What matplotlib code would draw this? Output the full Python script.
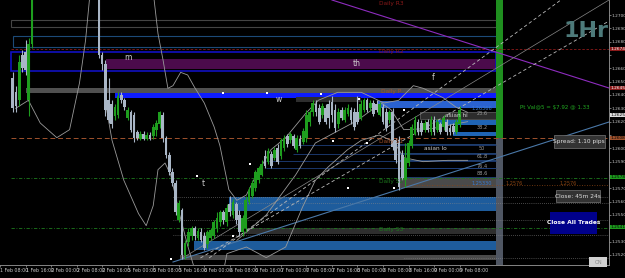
import matplotlib
matplotlib.use("Agg")
import matplotlib.pyplot as plt
import matplotlib.transforms as mtransforms
from matplotlib.patches import Rectangle
import numpy as np

# hourly GBPUSD bars, bar 0 = 1 Feb 16:00, prices in pips above 1.2500
first_bar = -4
nan = np.nan
opens = [153, 142, 136, 170, 172, 136, 178] + [nan] * 20 + [
    219, 170, 163, 136, 133, 124, 125, 140, 136, 123, 127, 125, 112, 107, 111, 107, 110, 109, 114, 118,
    125, 108, 95, 82, 74, 46, 54, 20, 30, 34, 40, 33, 37, 34, 28, 33, 34, 40, 45, 52,
    45, 58, 50, 58, 50, 37, 40, 60, 64, 70, 76, 80, 94, 90, 96, 93, 100, 94, 100, 109,
    106, 109, 99, 107, 105, 108, 120, 127, 133, 130, 125, 130, 133, 135, 129, 118, 129, 121, 126, 129,
    127, 127, 123, 129, 136, 130, 134, 133, 125, 131, 127, 121, 127, 106, 106, 95, 76, 89, 102, 111,
    120, 119, 114, 120, 112, 121, 114, 118, 116, 120, 115, 117, 112, 118]
closes = [130, 132, 165, 160, 159, 178, 219] + [nan] * 20 + [
    170, 163, 129, 121, 118, 131, 139, 136, 131, 129, 114, 108, 108, 111, 107, 110, 107, 116, 119, 127,
    108, 95, 82, 74, 52, 59, 20, 29, 37, 40, 34, 38, 31, 25, 37, 39, 45, 48, 52, 46,
    55, 52, 60, 46, 37, 48, 61, 69, 74, 82, 85, 88, 87, 98, 87, 99, 90, 106, 108, 103,
    111, 102, 108, 102, 113, 125, 127, 134, 127, 120, 132, 120, 123, 125, 115, 127, 123, 129, 130, 121,
    116, 120, 133, 136, 129, 134, 126, 129, 133, 120, 115, 127, 101, 91, 71, 78, 93, 104, 116, 121,
    112, 112, 119, 114, 121, 112, 120, 112, 123, 112, 112, 112, 120, 129]
highs = [157, 147, 170, 174, 181, 183, 226] + [nan] * 20 + [
    226, 172, 166, 153, 136, 133, 142, 142, 138, 131, 129, 127, 114, 113, 113, 112, 112, 118, 121, 128,
    127, 109, 97, 85, 76, 61, 55, 31, 40, 42, 42, 40, 40, 37, 39, 40, 46, 52, 54, 54,
    58, 64, 62, 60, 54, 50, 64, 71, 76, 84, 87, 91, 99, 100, 98, 101, 103, 108, 110, 111,
    112, 111, 110, 110, 115, 129, 129, 136, 136, 133, 134, 133, 136, 139, 133, 130, 131, 131, 133, 131,
    130, 139, 136, 138, 138, 136, 136, 136, 135, 133, 130, 129, 130, 108, 109, 99, 104, 106, 118, 124,
    122, 121, 121, 122, 124, 124, 122, 120, 125, 122, 118, 119, 122, 132]
lows = [127, 127, 132, 157, 155, 124, 175] + [nan] * 20 + [
    168, 159, 124, 119, 115, 121, 123, 134, 129, 121, 112, 105, 106, 106, 106, 106, 106, 107, 109, 115,
    105, 93, 80, 72, 50, 45, 17, 17, 27, 31, 31, 31, 30, 24, 25, 31, 33, 37, 42, 43,
    42, 49, 48, 43, 34, 34, 37, 58, 63, 68, 74, 79, 85, 88, 85, 91, 88, 92, 98, 101,
    104, 100, 97, 100, 103, 105, 117, 124, 124, 118, 123, 118, 115, 120, 112, 115, 121, 120, 124, 118,
    114, 118, 121, 127, 127, 128, 124, 127, 124, 118, 113, 119, 99, 89, 69, 76, 71, 87, 100, 110,
    110, 110, 112, 112, 110, 110, 112, 111, 114, 110, 110, 111, 111, 116]

# bollinger style curves (bar, pips)
band_left = [(-3.1, 130), (0.9, 136), (4.6, 119), (9.8, 108), (13.8, 114), (16.9, 149), (18.8, 181), (20, 211)]
band_upper = [(40.3, 211), (41.5, 186), (43.1, 166), (44.6, 145), (46.2, 147), (48.6, 157), (50.8, 155),
              (52.9, 146), (56, 134), (59.1, 116), (60.9, 102), (63.7, 69), (66.2, 61), (69.2, 65),
              (72.3, 80), (76.9, 99), (81.5, 108), (87.7, 126), (91.7, 136), (97.8, 142), (105.2, 142),
              (112.3, 134), (116.9, 136), (121.5, 147), (124.6, 145), (130.8, 138), (134.8, 131), (138.5, 127)]
band_lower = [(25.2, 132), (27.1, 106), (30.8, 76), (35.4, 51), (37.8, 42), (40, 57), (41.5, 84),
              (43.7, 89), (45.5, 80), (48.3, 50), (50.8, 27), (52.9, 10), (57.5, -6), (62.2, 10),
              (63.1, 21), (69.2, 26), (75.4, 18), (81.5, 26), (86.8, 56), (90.8, 76), (94.8, 86),
              (100.9, 99), (105.2, 106), (110.8, 110), (115.4, 105), (118.5, 93), (124.6, 90),
              (132.3, 91), (138.5, 91)]
band_mid = [(66.2, 31), (75.4, 50), (84.6, 80), (90.8, 104), (104, 121), (111.4, 134), (114.5, 129),
            (118.5, 114), (127.7, 115), (138.5, 120)]

dots = [(61.8, 141.5), (75.7, 141.5), (92.6, 140.8), (104.6, 137), (118.5, 128.8), (96.3, 105.5),
        (107.1, 104), (70.2, 88.3), (53.8, 79.3), (64.9, 34.3), (45.5, 17), (100.9, 70.3), (115.4, 70.3)]

tick_bars = list(range(-8, 137, 8))
tick_labels = ["1 Feb 08:00", "1 Feb 16:00", "2 Feb 00:00", "2 Feb 08:00", "2 Feb 16:00",
               "5 Feb 00:00", "5 Feb 08:00", "5 Feb 16:00", "6 Feb 00:00", "6 Feb 08:00",
               "6 Feb 16:00", "7 Feb 00:00", "7 Feb 08:00", "7 Feb 16:00", "8 Feb 00:00",
               "8 Feb 08:00", "8 Feb 16:00", "9 Feb 00:00", "9 Feb 08:00"]
price_ticks = list(range(20, 201, 10))
# coloured level tags on the price scale
level_tags = [174.5, 145.25, 125, 107.75, 78.5, 41]
tag_colors = ["#8b1a1a", "#8b1a1a", "#dddddd", "#a0522d", "#1d9a1d", "#1d9a1d"]

BULL = "#1e9e1e"
BEAR = "#a9b6c6"
X0, X1 = -4.6, 182.8
ZEND = 147.4
NARROW = ["Liberation Sans Narrow", "DejaVu Sans"]

fig = plt.figure(figsize=(6.25, 2.78), dpi=100, facecolor="black")
ax = fig.add_axes([0, 13 / 278, 609 / 625, 265 / 278])
ax.set_facecolor("black")
ax.set_xlim(X0, X1)
ax.set_ylim(12.5, 211.25)

def zone(x0, p0, p1, color, x1=ZEND, **kw):
    ax.add_patch(Rectangle((x0, p0), x1 - x0, p1 - p0, facecolor=color, edgecolor="none", zorder=1, **kw))

def box(x0, p0, p1, color, x1=ZEND, lw=0.8):
    ax.add_patch(Rectangle((x0, p0), x1 - x0, p1 - p0, facecolor="none", edgecolor=color, lw=lw, zorder=1))

# zones
zone(25.2, 159.5, 167, "#4b0b4b")
zone(0.3, 141.5, 145.25, "#505050")
zone(28, 137.75, 141.5, "#0d1cff")
zone(84.6, 134.75, 138.5, "#2e2e2e", x1=105.2)
zone(110.2, 130.25, 135.5, "#2a62d0")
zone(123.7, 122, 127.25, "#2c2c2c")
zone(128.6, 117.5, 121.25, "#1f64b4")
zone(133.8, 109.25, 112.25, "#1f64b4")
zone(116.9, 70.25, 77.75, "#4a4a4a")
zone(63.7, 53, 63.5, "#1e5c9c")
zone(52.9, 23.75, 30.5, "#1e5c9c")
zone(69.2, 35.75, 40.25, "#2e2e2e")
zone(48.3, 16.25, 20, "#4a4a4a")

box(X0, 191, 196.5, "#444444")
box(-4, 176, 184.25, "#1c4a78")
box(X0, 158, 172.25, "#1010c0", lw=1.2)
box(123.7, 122, 127.25, "#555555", lw=0.6)
for lo, hi in [(96.5, 103.25), (91.25, 96.5), (85.25, 91.25), (78.5, 85.25)]:
    box(116.9, lo, hi, "#1f3f6e", lw=0.7)

# horizontal levels
ax.hlines(174.5, X0, X1, color="#8b1a1a", lw=0.6, linestyles=(0, (3, 2)), zorder=2)
ax.hlines(107.75, X0, X1, color="#a0522d", lw=0.7, linestyles=(0, (5, 3)), zorder=2)
ax.hlines([77.75, 40.25], X0, X1, color="#1d7a1d", lw=0.6, linestyles=(0, (4, 2, 1, 2)), zorder=2)
ax.hlines([63.5, 46.25, 35], 46.2, X1, color="#8a8a8a", lw=0.5, linestyles=(0, (1, 2)), zorder=2)
ax.hlines(59, 63.7, X1, color="#8a8a8a", lw=0.5, linestyles=(0, (1, 2)), zorder=2)
ax.hlines(17.75, 118.5, X1, color="#8a8a8a", lw=0.5, linestyles=(0, (1, 2)), zorder=2)
ax.hlines([102.5, 95.75], 83.7, ZEND, color="#1f3f7a", lw=0.6, zorder=2)
ax.hlines([90.5, 85.25], 75.4, ZEND, color="#1f3f7a", lw=0.6, zorder=2)
ax.hlines(72.5, 118.5, X1, color="#8b4513", lw=0.6, linestyles=(0, (1, 2)), zorder=2)
ax.hlines(12.8, X0, X1, color="#1d7a1d", lw=0.6, linestyles=(0, (4, 2, 1, 2)), zorder=2)

# column marker
zone(ZEND, 107.75, 211.25, "#1f8f1f", x1=149.5)
zone(ZEND, 12.5, 107.75, "#4f5663", x1=149.5)

# diagonals
ax.plot([96, X1], [211.25, 145.25], color="#8e2cbf", lw=0.8, zorder=3)
ax.plot([46.2, X1], [14.75, 119.75], color="#4a78a8", lw=0.8, zorder=3)
ax.plot([54.8, X1], [17.75, 195.5], color="#bbbbbb", lw=0.6, ls=(0, (4, 3)), zorder=3)
ax.plot([57.5, 167.7], [17.75, 211.25], color="#bbbbbb", lw=0.6, ls=(0, (4, 3)), zorder=3)
ax.plot([49.2, X1], [17.75, 211.25], color="#888888", lw=0.5, zorder=3)

for curve in [band_left, band_upper, band_lower, band_mid]:
    xs, ys = zip(*curve)
    ax.plot(xs, ys, color="#9a9a9a", lw=0.6, zorder=3)

# candles
o = np.array(opens, float)
c = np.array(closes, float)
h = np.array(highs, float)
l = np.array(lows, float)
idx = np.arange(first_bar, first_bar + len(o))
ok = ~np.isnan(o)
up = c >= o
cols = np.where(up, BULL, BEAR)
ax.vlines(idx[ok], l[ok], h[ok], colors=cols[ok], lw=0.8, zorder=4)
ax.bar(idx[ok], np.maximum(np.abs(c - o)[ok], 0.7), bottom=np.minimum(o, c)[ok], width=0.85,
       color=cols[ok], zorder=5)

dx, dy = zip(*dots)
ax.scatter(dx, dy, s=2.5, color="white", marker="s", linewidths=0, zorder=6)

# labels on chart
small = dict(fontsize=4.2, zorder=7, family=NARROW)
for t, x, y in [("m", 32, 167.75), ("th", 103.7, 164), ("w", 79.4, 136.25), ("f", 127.7, 152.75), ("t", 55.7, 73.25)]:
    ax.text(x, y, t, color="#d0d0d0", ha="center", va="center", fontsize=5.5, zorder=7)
for t, y, col in [("Daily R3", 209, "#8b1a1a"), ("Daily R2", 172.25, "#8b1a1a"), ("Daily P", 143, "#a0522d"),
                  ("Daily S1", 104.75, "#a0522d"), ("Daily S2", 74.75, "#1d7a1d"), ("Daily S3", 38.75, "#1d7a1d")]:
    ax.text(114.5, y, t, color=col, ha="center", va="center", **small)
for t, y in [("23.6", 126), ("38.2", 115.5), ("50", 100), ("61.8", 93.5), ("76.4", 86.5), ("88.6", 81)]:
    ax.text(143, y, t, color="#9a9a9a", ha="center", va="center", fontsize=3.6, family=NARROW, zorder=7)
ax.text(135, 124.6, "asian hi", color="#cccccc", ha="center", va="center", **small)
ax.text(128.5, 100, "asian lo", color="#cccccc", ha="center", va="center", **small)
ax.text(143, 73.5, "1.25330", color="#3a7ad0", ha="center", va="center", fontsize=3.6, family=NARROW, zorder=7)
ax.text(143, 130, "1.26366", color="#3a7ad0", ha="center", va="center", fontsize=3.6, family=NARROW, zorder=7)
ax.text(153, 73.5, "1.2576", color="#8b4513", ha="center", va="center", fontsize=3.6, family=NARROW, zorder=7)
ax.text(170, 73.5, "1.2576", color="#8b4513", ha="center", va="center", fontsize=3.6, family=NARROW, zorder=7)
ax.text(155, 131, "Pt Val@5 = $7.92 @ 1.33", color="#22aa22", ha="left", va="center", fontsize=4,
        family=NARROW, zorder=7)

# right hand panel
ax.text(175.5, 188, "1Hr", color="#4d7a7a", ha="center", va="center", fontsize=16, fontweight="bold",
        family=NARROW, zorder=7)
ax.add_patch(Rectangle((165.5, 100.25), 16, 9.75, facecolor="#333333", edgecolor="#777777", lw=0.5, zorder=7))
ax.text(173.5, 105.1, "Spread: 1.10 pips", color="#dddddd", ha="center", va="center", fontsize=4.2,
        family=NARROW, zorder=8)
ax.add_patch(Rectangle((166.2, 59.75), 13.8, 9, facecolor="#333333", edgecolor="#777777", lw=0.5, zorder=7))
ax.text(173.1, 64.2, "Close: 45m 24s", color="#dddddd", ha="center", va="center", fontsize=4.2,
        family=NARROW, zorder=8)
ax.add_patch(Rectangle((164.3, 35.75), 14.8, 16.5, facecolor="#00008b", edgecolor="none", zorder=7))
ax.text(171.7, 44, "Close All Trades", color="white", ha="center", va="center", fontsize=4.3,
        fontweight="bold", family=NARROW, zorder=8)
ax.add_patch(Rectangle((176.6, 11), 5.6, 7.5, facecolor="#d0d0d0", edgecolor="none", zorder=7, clip_on=False))
ax.text(179.4, 14.5, "ON", color="#888888", ha="center", va="center", fontsize=3.6, zorder=8)

# axes styling
for s in ["left", "top"]:
    ax.spines[s].set_visible(False)
for s in ["right", "bottom"]:
    ax.spines[s].set_color("#9a9a9a")
    ax.spines[s].set_linewidth(0.6)
ax.yaxis.tick_right()
ax.set_yticks(price_ticks)
shown = [p if min(abs(p - q) for q in level_tags) > 4.5 else None for p in price_ticks]
ax.set_yticklabels([f"{1.25 + p / 1e4:.4f}" if p is not None else "" for p in shown], family=NARROW)
ax.tick_params(axis="y", colors="#c8c8c8", labelsize=3.1, length=1.2, width=0.4, pad=0.6)
ax.set_xticks(tick_bars)
ax.set_xticklabels(tick_labels, ha="left", family=NARROW)
ax.tick_params(axis="x", colors="#c8c8c8", labelsize=3.4, length=1.5, width=0.4, pad=1)

trans = mtransforms.blended_transform_factory(ax.transAxes, ax.transData)
for p, fc in zip(level_tags, tag_colors):
    col = "white" if fc == "#8b1a1a" else "black"
    ax.text(1.003, p, f"{1.25 + p / 1e4:.4f}", transform=trans, color=col, fontsize=3.1, va="center",
            ha="left", family=NARROW, bbox=dict(boxstyle="square,pad=0.1", fc=fc, ec="none"),
            zorder=9, clip_on=False)

fig.savefig("out.png", dpi=100, facecolor="black")
